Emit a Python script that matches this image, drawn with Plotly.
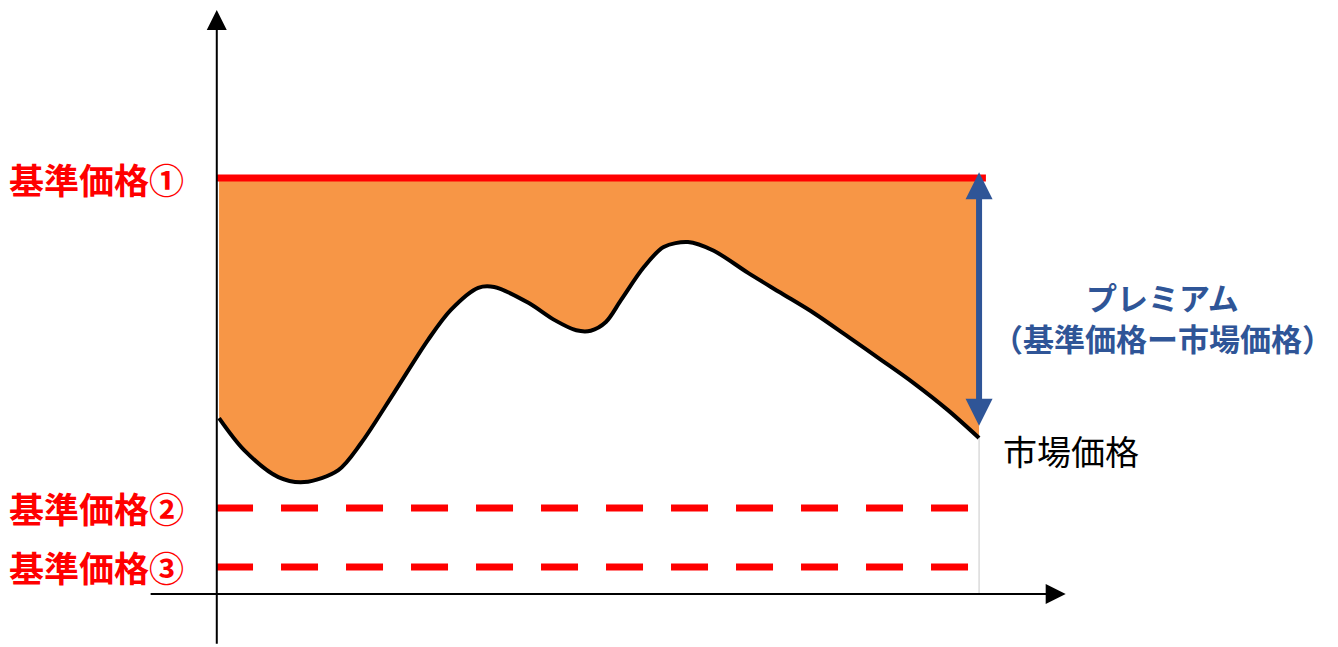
import plotly.graph_objects as go

# --- data (conceptual: time vs price) ---
market_t = [0.4, 3.7, 8.2, 11.6, 16.1, 19.1, 23.4, 27.9, 30.9, 34.5, 36.6, 41.1, 44.5, 47.4,
            49.3, 51.3, 53.3, 56.3, 58.9, 62.1, 65.5, 70.0, 74.3, 78.7, 83.2, 87.5, 91.8, 96.3, 100.4]
market_p = [42.3, 34.6, 28.1, 26.9, 29.8, 36.3, 48.3, 61.1, 68.3, 73.6, 73.8, 70.0, 65.9, 63.4,
            63.3, 65.4, 70.7, 78.6, 83.4, 84.6, 82.5, 77.2, 72.4, 67.5, 61.8, 56.3, 50.7, 44.2, 37.5]
ref_prices = [100.0, 20.7, 6.5]
ref_labels = ["基準価格①", "基準価格②", "基準価格③"]
ref1_end_t = 101.3
ref_dash_end_t = 100.0
premium_lines = ["プレミアム", "（基準価格ー市場価格）"]
market_label = "市場価格"

RED = "#FF0000"
ORANGE = "#F79646"
BLUE = "#2F5597"
FONT = "Noto Sans CJK JP"

fig = go.Figure()

# fill base (reference price 1)
fig.add_trace(go.Scatter(x=market_t, y=[ref_prices[0]] * len(market_t), mode="lines",
                         line=dict(width=0), hoverinfo="skip"))
# market price curve with fill up to reference 1
fig.add_trace(go.Scatter(x=market_t, y=market_p, mode="lines", fill="tonexty",
                         fillcolor=ORANGE, line=dict(color="black", width=4, shape="spline", smoothing=0.9)))
# reference price 1 (solid)
fig.add_trace(go.Scatter(x=[0, ref1_end_t], y=[ref_prices[0]] * 2, mode="lines",
                         line=dict(color=RED, width=7)))
# reference prices 2 and 3 (dashed)
for p in ref_prices[1:]:
    fig.add_trace(go.Scatter(x=[0, ref_dash_end_t], y=[p, p], mode="lines",
                             line=dict(color=RED, width=7, dash="37px,28px")))
# thin gray guide at end time
fig.add_trace(go.Scatter(x=[market_t[-1], market_t[-1]], y=[0, market_p[-1]], mode="lines",
                         line=dict(color="#C8C8C8", width=1)))

annotations = []
# axes arrows
annotations.append(dict(x=0.1, y=140.4, ax=0.1, ay=-12.3, xref="x", yref="y", axref="x", ayref="y",
                        showarrow=True, arrowhead=2, arrowsize=2, arrowwidth=2, arrowcolor="black", text=""))
annotations.append(dict(x=111.8, y=0, ax=-8.8, ay=0, xref="x", yref="y", axref="x", ayref="y",
                        showarrow=True, arrowhead=2, arrowsize=2, arrowwidth=2, arrowcolor="black", text=""))
# premium double arrow
annotations.append(dict(x=100.4, y=101.4, ax=100.4, ay=40.1, xref="x", yref="y", axref="x", ayref="y",
                        showarrow=True, arrowhead=2, startarrowhead=2, arrowside="end+start",
                        arrowsize=0.9, startarrowsize=0.9, arrowwidth=6, arrowcolor=BLUE, text=""))
# reference labels
for lab, p in zip(ref_labels, ref_prices):
    annotations.append(dict(x=-3.9, y=p, xref="x", yref="y", xanchor="right", yanchor="middle",
                            showarrow=False, text=f"<b>{lab}</b>",
                            font=dict(family=FONT, size=35, color=RED)))
for line, p in zip(premium_lines, [71.6, 61.9]):
    annotations.append(dict(x=124.6, y=p, xref="x", yref="y", xanchor="center", yanchor="middle",
                            showarrow=False, text=f"<b>{line}</b>", height=38,
                            font=dict(family=FONT, size=31, color=BLUE)))
annotations.append(dict(x=103.3, y=34.6, xref="x", yref="y", xanchor="left", yanchor="middle",
                        showarrow=False, text=market_label,
                        font=dict(family=FONT, size=34, color="black")))

fig.update_layout(
    width=1338, height=647,
    margin=dict(l=0, r=0, t=0, b=0),
    paper_bgcolor="white", plot_bgcolor="white",
    showlegend=False,
    xaxis=dict(range=[-27.37, 148.68], visible=False, fixedrange=True),
    yaxis=dict(range=[-14.66, 140.87], visible=False, fixedrange=True),
    annotations=annotations,
)

fig.write_html("out.html")
